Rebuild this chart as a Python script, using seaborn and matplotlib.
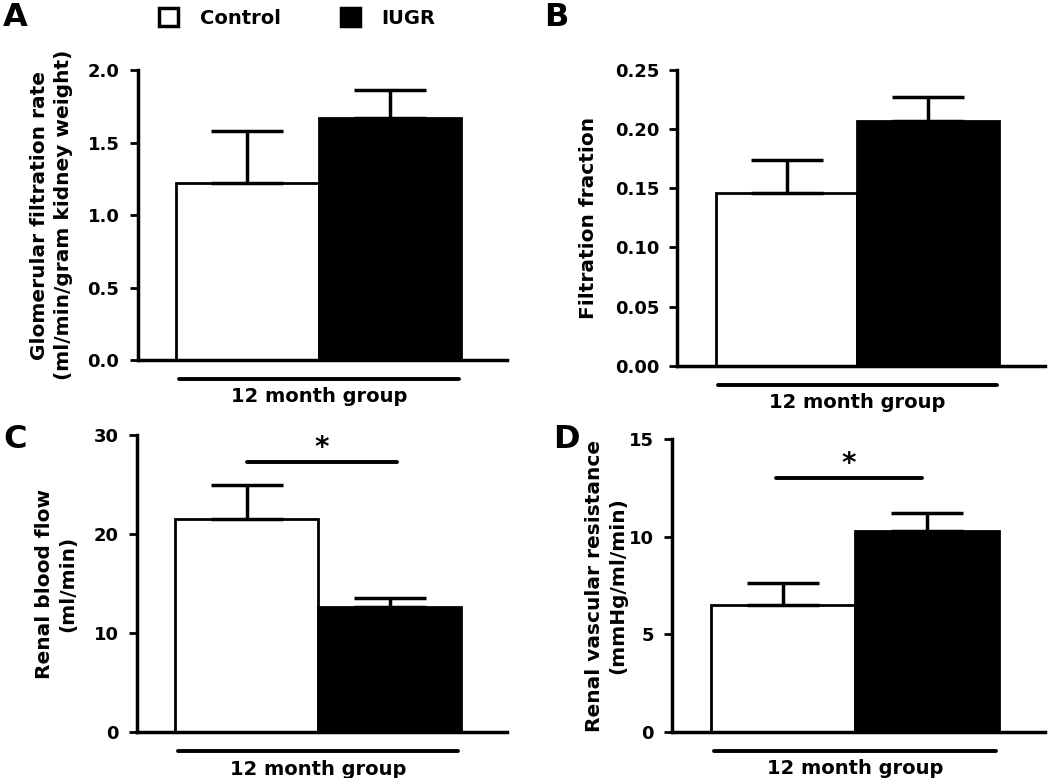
import matplotlib
matplotlib.use("Agg")
import matplotlib.pyplot as plt
import matplotlib.transforms as mtransforms
from matplotlib.patches import Patch
import seaborn as sns

# ----------------------------- #
#  Data
# ----------------------------- #
groups = ["Control", "IUGR"]
bar_colors = {"Control": "white", "IUGR": "black"}

gfr_mean = [1.22, 1.67]
gfr_sem = [0.36, 0.19]

ff_mean = [0.146, 0.207]
ff_sem = [0.028, 0.020]

rbf_mean = [21.5, 12.6]
rbf_sem = [3.4, 0.9]

rvr_mean = [6.5, 10.3]
rvr_sem = [1.1, 0.9]

panel_letters = ["A", "B", "C", "D"]
ylabels = ["Glomerular filtration rate\n(ml/min/gram kidney weight)",
           "Filtration fraction",
           "Renal blood flow\n(ml/min)",
           "Renal vascular resistance\n(mmHg/ml/min)"]
yticks = [[0.0, 0.5, 1.0, 1.5, 2.0],
          [0.00, 0.05, 0.10, 0.15, 0.20, 0.25],
          [0, 10, 20, 30],
          [0, 5, 10, 15]]
tick_fmt = ["{:.1f}", "{:.2f}", "{:.0f}", "{:.0f}"]
group_label = "12 month group"

# significance bars: (x start, x end, y) ; None when not significant
sig_bars = [None, None, (0.0, 1.05, 27.3), (-0.05, 0.97, 13.0)]

# ----------------------------- #
#  Figure
# ----------------------------- #
sns.set_style("ticks")
plt.rcParams["font.family"] = ["DejaVu Sans"]
plt.rcParams["font.weight"] = "bold"
for key in ["text.color", "axes.labelcolor", "xtick.color", "ytick.color", "axes.edgecolor"]:
    plt.rcParams[key] = "black"

fig = plt.figure(figsize=(10.5, 7.78), dpi=100)
positions = [[0.131, 0.537, 0.352, 0.373],
             [0.645, 0.530, 0.350, 0.380],
             [0.130, 0.059, 0.353, 0.382],
             [0.640, 0.059, 0.355, 0.377]]
means = [gfr_mean, ff_mean, rbf_mean, rvr_mean]
sems = [gfr_sem, ff_sem, rbf_sem, rvr_sem]
letter_pos = [(0.003, 0.977), (0.518, 0.977), (0.003, 0.435), (0.527, 0.435)]
label_x = [-0.175, -0.215, -0.16, -0.12]

for i in range(4):
    ax = fig.add_axes(positions[i])
    sns.barplot(x=groups, y=means[i], hue=groups, palette=bar_colors,
                width=1.0, edgecolor="black", linewidth=2, legend=False, ax=ax)
    ax.errorbar([0, 1], means[i], yerr=[[0, 0], sems[i]], fmt="none",
                ecolor="black", elinewidth=2.5, capsize=26, capthick=2.5, zorder=5)

    ax.set_xlim(-0.77, 1.82)
    ax.set_ylim(yticks[i][0], yticks[i][-1])
    ax.set_yticks(yticks[i])
    ax.set_yticklabels([tick_fmt[i].format(t) for t in yticks[i]],
                       fontsize=13, fontweight="bold")
    ax.set_xticks([])
    ax.set_xlabel("")
    ax.set_ylabel(ylabels[i], fontsize=14.5, fontweight="bold", linespacing=1.3)
    ax.yaxis.set_label_coords(label_x[i], 0.5)
    sns.despine(ax=ax)
    ax.spines["left"].set_linewidth(2.5)
    ax.spines["bottom"].set_linewidth(2.5)
    ax.spines["left"].set_bounds(yticks[i][0], yticks[i][-1])
    ax.tick_params(axis="y", length=6, width=2, pad=7)

    # group line + label below the bars
    trans = mtransforms.blended_transform_factory(ax.transData, ax.transAxes)
    ax.plot([-0.48, 1.48], [-0.065, -0.065], color="black", lw=2.8,
            transform=trans, clip_on=False)
    ax.text(0.5, -0.125, group_label, transform=trans, ha="center", va="center",
            fontsize=14, fontweight="bold")

    if sig_bars[i] is not None:
        x0, x1, y = sig_bars[i]
        ax.plot([x0, x1], [y, y], color="black", lw=2.8, clip_on=False)
        ax.text((x0 + x1) / 2, y, "*", ha="center", va="bottom",
                fontsize=20, fontweight="bold")

    fig.text(letter_pos[i][0], letter_pos[i][1], panel_letters[i],
             fontsize=23, fontweight="bold", va="center", ha="left")

handles = [Patch(facecolor=bar_colors[g], edgecolor="black", linewidth=2.5, label=g)
           for g in groups]
fig.legend(handles=handles, loc="upper center", bbox_to_anchor=(0.283, 1.012),
           ncol=2, frameon=False, handlelength=1.0,
           handleheight=1.0, columnspacing=3.1, handletextpad=1.1,
           prop={"weight": "bold", "size": 14})

fig.savefig("out.png", dpi=100)
